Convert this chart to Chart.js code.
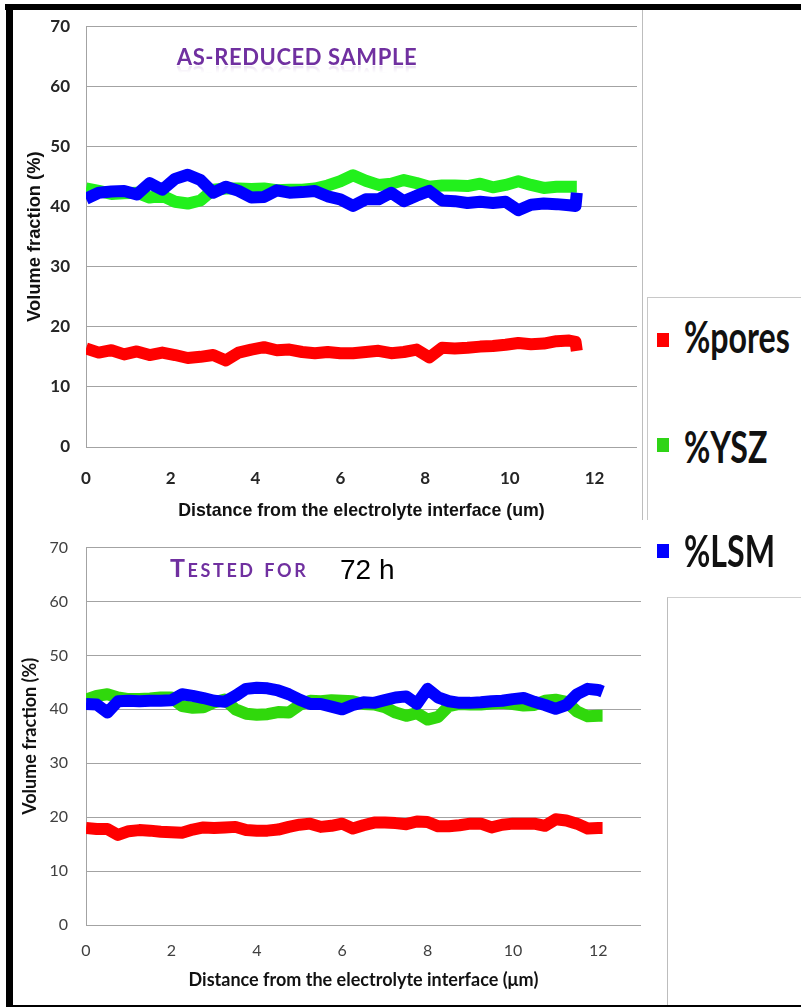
<!DOCTYPE html>
<html>
<head>
<meta charset="utf-8">
<script src="https://cdn.jsdelivr.net/npm/chart.js@4.4.1/dist/chart.umd.min.js"></script>
<style>
  body { margin: 0; width: 801px; height: 1008px; background: #fff; position: relative; overflow: hidden; }
  .abs { position: absolute; }
  canvas { position: absolute; display: block; }
  #chartTop { left: 0; top: 0; z-index: 1; }
  #chartBottom { left: 0; top: 520px; z-index: 2; background: #fff; }
  .txt { position: absolute; white-space: nowrap; line-height: 1; z-index: 5; }
  .heading { font-family: Lato, sans-serif; font-weight: bold; color: #7030a0; }
  .legend-key { position: absolute; width: 12px; height: 14px; z-index: 5; }
  .legend-label { font-family: Lato, sans-serif; font-weight: bold; font-size: 44px; color: #111; transform: scaleX(0.73); transform-origin: left top; }
</style>
</head>
<body>
<canvas id="chartTop" width="642" height="522"></canvas>
<canvas id="chartBottom" width="667" height="486"></canvas>

<!-- frame lines -->
<div class="abs" style="left:642px;top:10px;width:1px;height:510px;background:#bdbdbd;z-index:1"></div>
<div class="abs" style="left:647px;top:297px;width:154px;height:223px;border-left:1px solid #c8c8c8;border-top:1px solid #c8c8c8;z-index:1"></div>
<div class="abs" style="left:667px;top:597px;width:134px;height:408px;border-left:1px solid #bdbdbd;border-top:1px solid #cfcfcf;z-index:3"></div>
<div class="abs" style="left:5px;top:4px;width:796px;height:6px;background:#000;z-index:6"></div>
<div class="abs" style="left:6px;top:4px;width:7px;height:1003px;background:#000;z-index:6"></div>
<div class="abs" style="left:6px;top:1005px;width:795px;height:2px;background:#000;z-index:6"></div>

<!-- panel headings -->
<div class="txt heading" style="left:297px;top:46px;font-size:22px;letter-spacing:0.6px;transform:translateX(-50%)">AS-REDUCED SAMPLE</div>
<div class="txt heading" style="left:297px;top:63px;font-size:22px;letter-spacing:0.6px;transform:translateX(-50%) scaleY(-1);opacity:0.2;-webkit-mask-image:linear-gradient(to top, #000 0%, transparent 45%);mask-image:linear-gradient(to top, #000 0%, transparent 45%)">AS-REDUCED SAMPLE</div>
<div class="txt heading" style="left:170px;top:555px;font-size:25px;font-variant:small-caps;letter-spacing:2.6px">Tested for</div>
<div class="txt" style="left:340px;top:556px;font-family:'Liberation Sans', Arial, sans-serif;font-size:28px;color:#000">72 h</div>

<!-- legend -->
<div class="legend-key" id="keyPores" style="left:657px;top:333px"></div>
<div class="txt legend-label" style="left:684px;top:314px">%pores</div>
<div class="legend-key" id="keyYSZ" style="left:657px;top:438px"></div>
<div class="txt legend-label" style="left:684px;top:424px">%YSZ</div>
<div class="legend-key" id="keyLSM" style="left:657px;top:544px"></div>
<div class="txt legend-label" style="left:684px;top:528px">%LSM</div>

<script>
// distance from the electrolyte interface (um) and volume fractions (%)
const topDistance = [0, 0.3, 0.6, 0.9, 1.2, 1.5, 1.8, 2.1, 2.4, 2.7, 3.0, 3.3, 3.6, 3.9, 4.2, 4.5, 4.8, 5.1, 5.4, 5.7,
  6.0, 6.3, 6.6, 6.9, 7.2, 7.5, 7.8, 8.1, 8.4, 8.7, 9.0, 9.3, 9.6, 9.9, 10.2, 10.5, 10.8, 11.1, 11.4, 11.55, 11.58];
const topPores = [16.4, 15.7, 16.1, 15.4, 15.9, 15.3, 15.7, 15.3, 14.8, 15.0, 15.3, 14.4, 15.7, 16.2, 16.6, 16.1, 16.2, 15.8, 15.6, 15.8,
  15.6, 15.6, 15.8, 16.0, 15.6, 15.8, 16.2, 14.9, 16.5, 16.4, 16.5, 16.7, 16.8, 17.0, 17.3, 17.1, 17.2, 17.6, 17.7, 17.5, 16.0];
const topYSZ = [43.0, 42.6, 42.1, 42.2, 42.3, 41.5, 41.8, 40.8, 40.5, 41.0, 42.8, 43.0, 43.0, 42.9, 43.0, 42.7, 42.8, 42.8, 43.0, 43.5,
  44.2, 45.2, 44.3, 43.6, 43.8, 44.4, 43.9, 43.3, 43.5, 43.5, 43.4, 43.8, 43.2, 43.6, 44.2, 43.6, 43.1, 43.3, 43.3, 43.3, 43.3];
const topLSM = [41.3, 42.3, 42.5, 42.6, 42.0, 43.9, 42.8, 44.6, 45.3, 44.4, 42.3, 43.3, 42.6, 41.5, 41.6, 42.7, 42.3, 42.4, 42.6, 41.7,
  41.2, 40.1, 41.2, 41.2, 42.3, 40.9, 41.8, 42.6, 41.0, 40.9, 40.6, 40.8, 40.6, 40.8, 39.4, 40.3, 40.5, 40.4, 40.2, 40.1, 42.3];

const bottomDistance = [0, 0.25, 0.5, 0.75, 1.0, 1.25, 1.5, 1.75, 2.0, 2.25, 2.5, 2.75, 3.0, 3.25, 3.5, 3.75, 4.0, 4.25, 4.5, 4.75,
  5.0, 5.25, 5.5, 5.75, 6.0, 6.25, 6.5, 6.75, 7.0, 7.25, 7.5, 7.75, 8.0, 8.25, 8.5, 8.75, 9.0, 9.25, 9.5, 9.75,
  10.0, 10.25, 10.5, 10.75, 11.0, 11.25, 11.5, 11.75, 12.0, 12.1];
const bottomPores = [18.0, 17.8, 17.8, 16.7, 17.4, 17.6, 17.5, 17.3, 17.2, 17.1, 17.7, 18.1, 18.0, 18.1, 18.2, 17.6, 17.5, 17.5, 17.7, 18.2,
  18.6, 18.8, 18.2, 18.4, 18.8, 17.9, 18.5, 19.0, 19.0, 18.9, 18.7, 19.2, 19.1, 18.3, 18.3, 18.5, 18.8, 18.8, 18.1, 18.6,
  18.8, 18.8, 18.8, 18.4, 19.6, 19.4, 18.8, 17.9, 18.0, 18.0];
const bottomYSZ = [41.8, 42.5, 42.8, 42.2, 41.9, 41.9, 42.0, 42.2, 42.2, 40.6, 40.3, 40.4, 41.3, 41.8, 40.0, 39.2, 39.0, 39.1, 39.5, 39.4,
  40.8, 41.6, 41.5, 41.7, 41.6, 41.5, 41.0, 40.9, 40.4, 39.4, 38.8, 39.3, 38.1, 38.6, 40.6, 41.0, 40.9, 40.9, 41.1, 41.2,
  41.0, 40.7, 40.8, 41.6, 41.8, 41.4, 39.6, 38.7, 38.8, 38.8];
const bottomLSM = [41.0, 40.9, 39.4, 41.5, 41.6, 41.5, 41.6, 41.6, 41.7, 42.8, 42.5, 42.1, 41.6, 41.4, 42.5, 43.8, 44.0, 43.9, 43.5, 42.8,
  41.8, 41.0, 41.0, 40.5, 40.0, 40.8, 41.3, 41.2, 41.7, 42.2, 42.4, 41.0, 43.8, 42.2, 41.5, 41.2, 41.2, 41.3, 41.5, 41.6,
  41.9, 42.1, 41.4, 40.8, 40.1, 40.8, 42.8, 43.8, 43.6, 43.3];

const yRange = [0, 70];
const yStep = 10;
const xRange = [0, 13];
const xStep = 2;

const RED = '#ff0000';
const BLUE = '#0000ff';
const GREEN_TOP = '#22f01c';
const GREEN_BOTTOM = '#30d80c';

document.getElementById('keyPores').style.background = RED;
document.getElementById('keyYSZ').style.background = '#2fd416';
document.getElementById('keyLSM').style.background = BLUE;

function points(xs, ys) {
  return xs.map((x, i) => ({ x: x, y: ys[i] }));
}

function series(label, xs, ys, color, order) {
  return {
    label: label,
    data: points(xs, ys),
    borderColor: color,
    backgroundColor: color,
    borderWidth: 12,
    borderJoinStyle: 'round',
    borderCapStyle: 'butt',
    pointRadius: 0,
    tension: 0,
    fill: false,
    order: order
  };
}

function makeChart(id, xs, pores, ysz, lsm, green, look) {
  return new Chart(document.getElementById(id), {
    type: 'line',
    data: {
      datasets: [
        series('%pores', xs, pores, RED, 2),
        series('%YSZ', xs, ysz, green, 1),
        series('%LSM', xs, lsm, BLUE, 0)
      ]
    },
    options: {
      responsive: false,
      animation: false,
      devicePixelRatio: 1,
      layout: { padding: look.padding },
      plugins: { legend: { display: false }, tooltip: { enabled: false } },
      scales: {
        x: {
          type: 'linear',
          min: xRange[0], max: xRange[1],
          grid: { display: false, drawTicks: false },
          border: { display: false },
          ticks: { stepSize: xStep, includeBounds: false, maxRotation: 0, padding: look.xTickPad, color: look.tickColor, font: look.tickFont },
          title: { display: true, text: look.xTitle, color: '#111', font: look.xTitleFont, padding: { top: 0, bottom: look.xTitlePad } },
          afterFit: s => { s.height = look.xHeight; }
        },
        y: {
          min: yRange[0], max: yRange[1],
          grid: { color: '#a3a3a3', lineWidth: 1, drawTicks: false },
          border: { display: true, color: '#a3a3a3', width: 1 },
          ticks: { stepSize: yStep, padding: look.yTickPad, color: look.tickColor, font: look.tickFont },
          title: { display: true, text: 'Volume fraction (%)', color: '#111', font: look.yTitleFont, padding: { top: look.yTitlePad, bottom: 0 } },
          afterFit: s => { s.width = 86; }
        }
      }
    }
  });
}

// as-reduced sample
makeChart('chartTop', topDistance, topPores, topYSZ, topLSM, GREEN_TOP, {
  padding: { left: 0, right: 5, top: 21, bottom: 0 },
  xHeight: 75,
  xTickPad: 21,
  yTickPad: 16,
  tickColor: '#262626',
  tickFont: { family: 'Lato', weight: 'bold', size: 17 },
  xTitle: 'Distance from the electrolyte interface (um)',
  xTitleFont: { family: "'Liberation Sans', sans-serif", weight: 'bold', size: 17.8 },
  xTitlePad: 0,
  yTitleFont: { family: "'Liberation Sans', sans-serif", weight: 'bold', size: 18.3 },
  yTitlePad: 24
});

// tested for 72 h
makeChart('chartBottom', bottomDistance, bottomPores, bottomYSZ, bottomLSM, GREEN_BOTTOM, {
  padding: { left: 0, right: 26, top: 14, bottom: 0 },
  xHeight: 81,
  xTickPad: 16,
  yTickPad: 18,
  tickColor: '#404040',
  tickFont: { family: 'Lato', size: 16 },
  xTitle: 'Distance from the electrolyte interface (\u03bcm)',
  xTitleFont: { family: 'Lato', weight: 'bold', size: 18 },
  xTitlePad: 15,
  yTitleFont: { family: 'Lato', weight: 'bold', size: 18 },
  yTitlePad: 19
});
</script>
</body>
</html>
